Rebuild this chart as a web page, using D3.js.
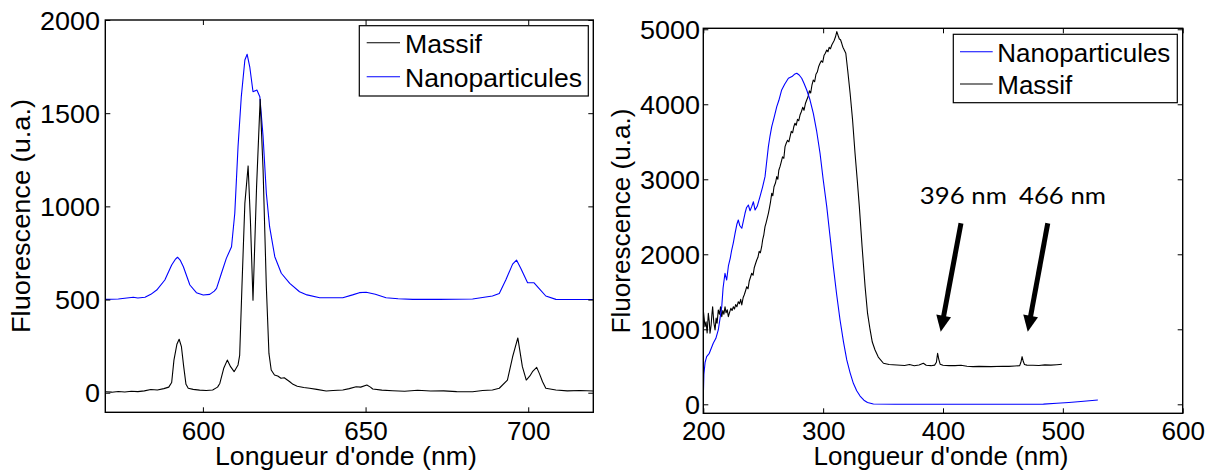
<!DOCTYPE html>
<html><head><meta charset="utf-8">
<script src="https://cdn.jsdelivr.net/npm/d3@7/dist/d3.min.js"></script>
<style>
body{margin:0;background:#fff;}
svg{display:block;}
text{font-family:"Liberation Sans",Arial,sans-serif;fill:#000;}
</style></head>
<body><svg id="c" width="1210" height="473"></svg>
<script>
// ---------- DATA ----------
// Left panel (emission spectra)
const leftXTicks = [600, 650, 700];
const leftYTicks = [0, 500, 1000, 1500, 2000];
const massifLeft = [[570,5],[572,3],[574,7],[576,4],[578,8],[580,6],[582,10],[584,17],[586,15],[588,22],[589.5,30],[590.4,55],[591.1,175],[592.0,260],[592.7,287],[593.4,247],[594.1,140],[594.8,45],[595.5,24],[597,18],[599,14],[601,12],[603,15],[604.5,30],[605.2,50],[606.4,131],[607.5,175],[608.5,140],[609.6,113],[610.8,149],[611.3,200],[612.0,569],[612.9,1016],[613.9,1217],[614.6,927],[615.4,497],[616.5,1106],[617.6,1574],[618.5,1195],[619.5,569],[620.3,211],[621.0,122],[622,95],[623,90],[624,78],[625,80],[626.7,59],[627.7,45],[629,35],[631,28],[632.8,24],[635,18],[637.9,9],[640,12],[643,15],[645,22],[647.1,32],[648.5,30],[650.4,41],[651.5,30],[652.2,20],[655,14],[658.3,11],[662,8],[666,13],[670,9],[674,10],[678,6],[682.9,5],[686,12],[689,15],[691.1,24],[693.6,68],[695.2,193],[696.8,294],[698.2,140],[699.4,68],[700.5,90],[701.3,113],[702.6,136],[703.5,100],[704.4,59],[705.4,24],[708.5,15],[712,10],[716,12],[720,9]];
const nanoLeft = [[570,501],[574,503],[578.6,512],[580,508],[582.2,512],[584,528],[585.8,551],[588.3,605],[590.4,685],[591.5,715],[592.2,727],[593,712],[594,676],[596,578],[598,537],[600.1,524],[602.1,528],[603.5,545],[604.2,560],[605.7,641],[607.2,721],[608.8,783],[609.8,963],[610.8,1320],[611.8,1588],[612.9,1785],[613.6,1816],[614.4,1749],[615.4,1615],[616.6,1624],[617.5,1588],[618.5,1374],[619.5,1070],[620.5,891],[622.1,730],[624.1,641],[626.7,587],[629.7,542],[632,525],[635.9,510],[643,510],[646,525],[648.1,537],[650.2,539],[653,528],[656.3,510],[660,504],[664.5,501],[672.7,501],[682.9,503],[689,519],[691.1,533],[693.1,605],[695.2,690],[696.4,712],[697.7,668],[699.8,590],[701.8,590],[703.3,560],[705.4,519],[708.5,501],[718.7,500],[720,500]];

// Right panel (excitation spectra)
const rightXTicks = [200, 300, 400, 500, 600];
const rightYTicks = [0, 1000, 2000, 3000, 4000, 5000];
const nanoRight = [[200,80],[200.5,400],[201.5,560],[202.8,635],[205,680],[208.3,813],[210.5,880],[212.5,991],[214,1150],[215.4,1302],[216.5,1550],[218.1,1747],[219.5,1657],[221,1850],[222.5,1950],[223.7,2057],[225,2150],[226.5,2280],[228,2400],[229.2,2457],[230.5,2380],[232.1,2347],[233.5,2450],[234.8,2547],[236,2620],[237.6,2657],[239,2580],[240.4,2635],[241.8,2700],[243.2,2590],[245,2640],[247.3,2768],[249.5,2900],[251.5,3035],[253,3250],[254.3,3435],[255.7,3580],[257.1,3701],[259,3820],[261.3,3968],[263,4050],[265.4,4191],[268,4270],[271,4347],[274,4370],[276,4400],[278,4413],[280,4390],[282.1,4347],[284,4280],[286.3,4191],[289,4060],[291.8,3880],[294.5,3650],[297.4,3347],[300,3000],[303,2635],[305.8,2230],[308.5,1835],[311.3,1460],[314.1,1124],[317,830],[319.7,591],[322.5,420],[325.2,280],[328,180],[330.8,110],[334,55],[337,25],[341.9,3],[360,0],[400,0],[450,0],[483.8,2],[495,15],[505,25],[515,38],[529.2,57]];
const massifRight = [[200,1257],[200.7,1150],[201.4,1035],[202.3,1100],[203.2,950],[204.2,1213],[205,1100],[205.6,947],[206.5,1050],[207.2,1200],[207.8,1301],[208.7,1100],[209.8,991],[210.7,1150],[211.5,1080],[212.5,1257],[213.5,1200],[214.4,1300],[215.4,1168],[216.3,1250],[217.2,1200],[218.1,1301],[219,1220],[220,1260],[220.9,1168],[222,1230],[223,1280],[224,1250],[225.1,1301],[226,1270],[227,1330],[228,1300],[229.2,1368],[230.2,1340],[231.2,1400],[232.1,1324],[233.2,1420],[234.2,1460],[235.2,1510],[236.2,1568],[237.3,1540],[238.3,1640],[239.3,1690],[240.4,1747],[241.5,1720],[242.5,1820],[243.5,1870],[244.6,1924],[245.6,1960],[246.6,2040],[247.6,2020],[248.7,2101],[249.6,2200],[250.5,2260],[251.5,2368],[252.4,2420],[253.3,2480],[254.3,2546],[255.2,2620],[256.1,2700],[257.1,2813],[258,2780],[259,2900],[260.2,2950],[261.3,3035],[262.2,3000],[263,3120],[264,3168],[265,3230],[266.1,3300],[267.2,3280],[268.2,3435],[269.2,3480],[270.3,3520],[271.4,3500],[272.4,3568],[273.4,3640],[274.5,3620],[275.5,3700],[276.5,3747],[277.5,3720],[278.6,3800],[279.6,3780],[280.7,3857],[281.8,3900],[283,3960],[284,3920],[285.2,4010],[286.3,4057],[287.4,4100],[288.5,4180],[289.6,4150],[290.7,4260],[291.8,4324],[292.9,4300],[294,4400],[295.1,4430],[296.2,4500],[297.4,4547],[298.5,4580],[299.6,4560],[300.7,4650],[301.8,4680],[303,4724],[304,4700],[305,4760],[306.1,4740],[307.2,4791],[308.2,4820],[309.2,4850],[310.3,4900],[311.4,4969],[312.4,4920],[313.5,4870],[314.5,4860],[315.5,4813],[316.5,4760],[317.7,4720],[318.9,4680],[320.5,4450],[322.5,4147],[324.5,3800],[326.6,3347],[328.5,2980],[330.2,2635],[332.5,2100],[335,1568],[337,1220],[339.2,991],[341,830],[343.3,724],[346,630],[350.3,547],[355,530],[361.4,524],[368,518],[372,530],[376,515],[380,525],[383.6,547],[386,520],[390,515],[393,522],[394.5,560],[395.5,680],[396.5,600],[397.6,535],[400,520],[405,515],[410,515],[415,520],[420,508],[425,502],[430,505],[440,502],[450,508],[455,505],[460,510],[464,515],[465,560],[466,635],[467,570],[468,530],[470,522],[475,520],[480,518],[485,525],[490,522],[495,528],[499.2,533]];

// Annotations on right panel: label text, text anchor point, arrow start, arrow tip (data units)
const annoLabels = ["396 nm", "466 nm"];
const annoText = [[380.7, 2671], [463.4, 2671]];
const arrowStart = [[415.0, 2413], [487.4, 2413]];
const arrowTip = [[398.1, 968], [470.7, 968]];

const xLabel = "Longueur d'onde (nm)";
const yLabel = "Fluorescence (u.a.)";

// ---------- DRAWING ----------
const svg = d3.select("#c");
const FS = 25;

function panel(cfg){
  const g = svg.append("g");
  const x = d3.scaleLinear().domain(cfg.xDomain).range([cfg.x0, cfg.x1]);
  const y = d3.scaleLinear().domain(cfg.yDomain).range([cfg.y1, cfg.y0]);
  const id = "clip" + cfg.name;
  svg.append("clipPath").attr("id", id).append("rect")
    .attr("x", cfg.x0).attr("y", cfg.y0).attr("width", cfg.x1-cfg.x0).attr("height", cfg.y1-cfg.y0);

  const line = d3.line().x(d=>x(d[0])).y(d=>y(d[1]));
  cfg.series.forEach(s=>{
    g.append("path").attr("d", line(s.data)).attr("fill","none")
      .attr("stroke", s.color).attr("stroke-width", 1.1).attr("stroke-linejoin","round")
      .attr("clip-path", `url(#${id})`);
  });

  // axes with inward ticks, mirrored
  const tl = 5;
  const axB = d3.axisBottom(x).tickValues(cfg.xTicks).tickSize(-tl).tickPadding(0).tickFormat(d3.format("d"));
  const axT = d3.axisTop(x).tickValues(cfg.xTicks).tickSize(-tl).tickFormat("");
  const axL = d3.axisLeft(y).tickValues(cfg.yTicks).tickSize(-tl).tickFormat(d3.format("d"));
  const axR = d3.axisRight(y).tickValues(cfg.yTicks).tickSize(-tl).tickFormat("");
  const gB = g.append("g").attr("transform",`translate(0,${cfg.y1})`).call(axB);
  const gT = g.append("g").attr("transform",`translate(0,${cfg.y0})`).call(axT);
  const gL = g.append("g").attr("transform",`translate(${cfg.x0},0)`).call(axL);
  const gR = g.append("g").attr("transform",`translate(${cfg.x1},0)`).call(axR);
  [gB,gT,gL,gR].forEach(a=>{
    a.select(".domain").remove();
    a.selectAll(".tick line").attr("stroke","#000").attr("stroke-width",1);
  });
  gB.selectAll(".tick text").attr("y", null).attr("dy", null)
    .attr("transform", null).attr("font-size", FS)
    .attr("font-family","Liberation Sans, Arial, sans-serif")
    .each(function(d){ const t=String(d); d3.select(this).attr("y", 440-cfg.y1).attr("textLength", t.length*14.5).attr("lengthAdjust","spacingAndGlyphs"); });
  gL.selectAll(".tick text").attr("font-size", FS).attr("dy","0.36em")
    .attr("font-family","Liberation Sans, Arial, sans-serif")
    .attr("x", cfg.yTickX - cfg.x0)
    .each(function(d){ const t=String(d); d3.select(this).attr("textLength", t.length*15).attr("lengthAdjust","spacingAndGlyphs"); });

  // frame
  g.append("rect").attr("x",cfg.x0).attr("y",cfg.y0).attr("width",cfg.x1-cfg.x0).attr("height",cfg.y1-cfg.y0)
    .attr("fill","none").attr("stroke","#000").attr("stroke-width",1.4);

  // axis labels
  g.append("text").attr("x", cfg.xLabX).attr("y", 465).attr("text-anchor","middle")
    .attr("font-size", FS).attr("textLength", cfg.xLabLen).attr("lengthAdjust","spacingAndGlyphs").text(xLabel);
  g.append("text").attr("transform",`translate(${cfg.yLabX},${cfg.yLabY}) rotate(-90)`)
    .attr("text-anchor","middle").attr("font-size", FS)
    .attr("textLength", cfg.yLabLen).attr("lengthAdjust","spacingAndGlyphs").text(yLabel);

  // legend
  const L = cfg.legend;
  g.append("rect").attr("x",L.x0).attr("y",L.y0).attr("width",L.x1-L.x0).attr("height",L.y1-L.y0)
    .attr("fill","#fff").attr("stroke","#000").attr("stroke-width",1.2);
  L.items.forEach(it=>{
    g.append("line").attr("x1",L.lx0).attr("x2",L.lx1).attr("y1",it.ly).attr("y2",it.ly)
      .attr("stroke",it.color).attr("stroke-width",1.1);
    g.append("text").attr("x",L.tx).attr("y",it.ty).attr("font-size",FS)
      .attr("textLength",it.w).attr("lengthAdjust","spacingAndGlyphs").text(it.label);
  });
  return {g,x,y};
}

panel({
  name:"L", x0:105.3, x1:593.3, y0:20, y1:412.3,
  xDomain:[570,720], yDomain:[-105,2000],
  xTicks:leftXTicks, yTicks:leftYTicks, yTickX:100,
  series:[{data:nanoLeft,color:"#0000ff"},{data:massifLeft,color:"#000"}],
  xLabX:346, xLabLen:262, yLabX:30, yLabY:216, yLabLen:234,
  legend:{x0:359.3,x1:588.3,y0:25.7,y1:96, lx0:366.7, lx1:400, tx:405,
    items:[{label:"Massif",color:"#000",ly:42.7,ty:53.3,w:77},
           {label:"Nanoparticules",color:"#0000ff",ly:76.7,ty:86.7,w:177}]}
});

const R = panel({
  name:"R", x0:703.3, x1:1182.7, y0:28.3, y1:413.3,
  xDomain:[200,600], yDomain:[-120,5013],
  xTicks:rightXTicks, yTicks:rightYTicks, yTickX:700,
  series:[{data:massifRight,color:"#000"},{data:nanoRight,color:"#0000ff"}],
  xLabX:941, xLabLen:255, yLabX:630, yLabY:221, yLabLen:225,
  legend:{x0:953.3,x1:1177.3,y0:34.3,y1:102.7, lx0:960, lx1:992.7, tx:997.3,
    items:[{label:"Nanoparticules",color:"#0000ff",ly:51.7,ty:61.7,w:173},
           {label:"Massif",color:"#000",ly:84,ty:94.3,w:75}]}
});

// annotations
annoLabels.forEach((lab,i)=>{
  R.g.append("text").attr("x",R.x(annoText[i][0])).attr("y",R.y(annoText[i][1]))
    .attr("font-family","Lato, 'Open Sans', sans-serif").attr("font-size",24)
    .style("font-family","Lato, 'Open Sans', sans-serif")
    .attr("textLength",87).attr("lengthAdjust","spacingAndGlyphs").text(lab);
  const sx=R.x(arrowStart[i][0]), sy=R.y(arrowStart[i][1]);
  const tx=R.x(arrowTip[i][0]), ty=R.y(arrowTip[i][1]);
  const dx=tx-sx, dy=ty-sy, len=Math.hypot(dx,dy), ux=dx/len, uy=dy/len;
  const hl=16, hw=7.5;
  const bx=tx-ux*hl, by=ty-uy*hl;
  R.g.append("line").attr("x1",sx).attr("y1",sy).attr("x2",bx+ux*1).attr("y2",by+uy*1)
    .attr("stroke","#000").attr("stroke-width",5);
  R.g.append("path").attr("d",`M${tx},${ty}L${bx-uy*hw},${by+ux*hw}L${bx+uy*hw},${by-ux*hw}Z`).attr("fill","#000");
});
</script></body></html>
